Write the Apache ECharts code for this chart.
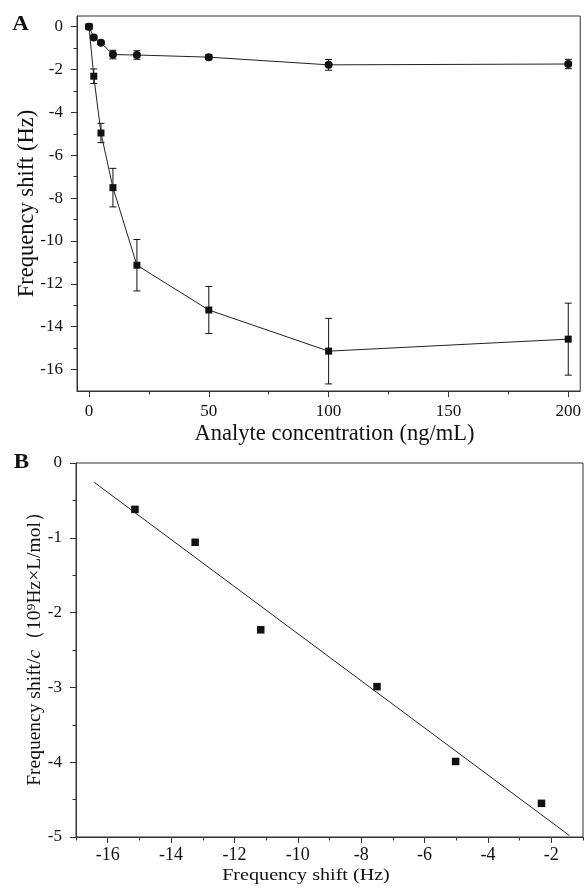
<!DOCTYPE html>
<html>
<head>
<meta charset="utf-8">
<script src="https://cdn.jsdelivr.net/npm/echarts@6/dist/echarts.min.js"></script>
<style>html,body{margin:0;padding:0;background:#fff;}#c{width:584px;height:888px;}</style>
</head>
<body>
<div id="c"></div>
<script>
// Panel A data
const concA = [0, 2, 5, 10, 20, 50, 100, 200];
const squareShift = [0, -2.31, -4.96, -7.51, -11.13, -13.22, -15.14, -14.58];
const squareErr = [0.1, 0.34, 0.45, 0.9, 1.2, 1.1, 1.53, 1.68];
const circleShift = [0, -0.5, -0.75, -1.3, -1.32, -1.42, -1.78, -1.74];
const circleErr = [0.08, 0.08, 0.08, 0.2, 0.2, 0.12, 0.25, 0.22];
const xTicksA = [0, 50, 100, 150, 200];
const xMinorA = [25, 75, 125, 175];
const yTicksA = [0, -2, -4, -6, -8, -10, -12, -14, -16];
const yMinorA = [-1, -3, -5, -7, -9, -11, -13, -15];
// Panel B data
const shiftB = [-15.14, -13.24, -11.17, -7.5, -5.02, -2.31];
const ratioB = [-0.62, -1.06, -2.23, -2.99, -3.99, -4.55];
const fitX = [-16.42, -1.43];
const fitY = [-0.26, -4.98];
const xTicksB = [-16, -14, -12, -10, -8, -6, -4, -2];
const xMinorB = [-17, -15, -13, -11, -9, -7, -5, -3, -1];
const yTicksB = [0, -1, -2, -3, -4, -5];
const yMinorB = [-0.5, -1.5, -2.5, -3.5, -4.5];

const FONT = "'Liberation Serif', 'Times New Roman', serif";
const INK = '#111';
const AXC = '#333';

function errItem(params, api) {
  const x = api.value(0), lo = api.value(1), hi = api.value(2);
  const a = api.coord([x, lo]), b = api.coord([x, hi]);
  const w = 3.5;
  const st = {stroke: INK, lineWidth: 1};
  return {type: 'group', children: [
    {type: 'line', shape: {x1: a[0], y1: a[1], x2: b[0], y2: b[1]}, style: st},
    {type: 'line', shape: {x1: a[0]-w, y1: a[1], x2: a[0]+w, y2: a[1]}, style: st},
    {type: 'line', shape: {x1: b[0]-w, y1: b[1], x2: b[0]+w, y2: b[1]}, style: st}
  ]};
}

function majorAxis(o) {
  return Object.assign({
    type: 'value', splitLine: {show: false},
    axisLine: {show: true, onZero: false, lineStyle: {color: AXC, width: 1}},
    axisTick: {show: true, inside: false, length: 6, customValues: o.ticks, lineStyle: {color: AXC}},
    axisLabel: {show: true, customValues: o.ticks, color: INK, fontFamily: FONT, fontSize: o.fs || 17, margin: o.margin}
  }, o.extra);
}
function minorAxis(o) {
  return Object.assign({
    type: 'value', splitLine: {show: false},
    axisLine: {show: false, onZero: false},
    axisTick: {show: true, inside: false, length: 3.5, customValues: o.ticks, lineStyle: {color: AXC}},
    axisLabel: {show: false}
  }, o.extra);
}

const chart = echarts.init(document.getElementById('c'), null, {renderer: 'canvas'});
chart.setOption({
  animation: false,
  backgroundColor: '#fff',
  grid: [
    {left: 77, top: 16, width: 504, height: 375, show: true, borderColor: AXC, borderWidth: 1},
    {left: 76, top: 463, width: 507, height: 374, show: true, borderColor: AXC, borderWidth: 1}
  ],
  xAxis: [
    majorAxis({ticks: xTicksA, margin: 12, fs: 17, extra: {gridIndex: 0, position: 'bottom', min: -5, max: 205}}),
    minorAxis({ticks: xMinorA, extra: {gridIndex: 0, position: 'bottom', min: -5, max: 205}}),
    majorAxis({ticks: xTicksB, margin: 9, fs: 18, extra: {gridIndex: 1, position: 'bottom', min: -17, max: -1}}),
    minorAxis({ticks: xMinorB, extra: {gridIndex: 1, position: 'bottom', min: -17, max: -1}})
  ],
  yAxis: [
    majorAxis({ticks: yTicksA, margin: 14, extra: {gridIndex: 0, position: 'left', min: -17, max: 0.5}}),
    minorAxis({ticks: yMinorA, extra: {gridIndex: 0, position: 'left', min: -17, max: 0.5}}),
    majorAxis({ticks: yTicksB, margin: 14, extra: {gridIndex: 1, position: 'left', min: -5, max: 0}}),
    minorAxis({ticks: yMinorB, extra: {gridIndex: 1, position: 'left', min: -5, max: 0}})
  ],
  graphic: [
    {type: 'text', x: 20.5, y: 25, scaleX: 1.15, style: {text: 'A', font: "bold 20px 'Liberation Serif', serif", fill: INK, align: 'center', verticalAlign: 'middle'}},
    {type: 'text', x: 21.5, y: 463, scaleX: 1.15, style: {text: 'B', font: "bold 20px 'Liberation Serif', serif", fill: INK, align: 'center', verticalAlign: 'middle'}},
    {type: 'text', x: 334.5, y: 434, style: {text: 'Analyte concentration (ng/mL)', font: "22.5px 'Liberation Serif', serif", fill: INK, align: 'center', verticalAlign: 'middle'}},
    {type: 'text', x: 27, y: 203.5, rotation: Math.PI / 2, style: {text: 'Frequency shift (Hz)', font: "22.5px 'Liberation Serif', serif", fill: INK, align: 'center', verticalAlign: 'middle'}},
    {type: 'text', x: 306, y: 875, scaleX: 1.15, style: {text: 'Frequency shift (Hz)', font: "17.5px 'Liberation Serif', serif", fill: INK, align: 'center', verticalAlign: 'middle'}},
    {type: 'text', x: 34.5, y: 644, rotation: Math.PI / 2, style: {
      text: '{n|Frequency shift/}{i|c}{n|（10⁹Hz×L/mol）}', align: 'center', verticalAlign: 'middle',
      rich: {
        n: {fontFamily: FONT, fontSize: 19.5, fill: INK},
        i: {fontFamily: FONT, fontSize: 19.5, fontStyle: 'italic', fill: INK}
      }}}
  ],
  series: [
    {type: 'custom', xAxisIndex: 0, yAxisIndex: 0, renderItem: errItem, encode: {x: 0, y: [1, 2]},
      data: concA.map((c, i) => [c, squareShift[i] - squareErr[i], squareShift[i] + squareErr[i]]), z: 3},
    {type: 'custom', xAxisIndex: 0, yAxisIndex: 0, renderItem: errItem, encode: {x: 0, y: [1, 2]},
      data: concA.map((c, i) => [c, circleShift[i] - circleErr[i], circleShift[i] + circleErr[i]]), z: 3},
    {type: 'line', xAxisIndex: 0, yAxisIndex: 0, data: concA.map((c, i) => [c, squareShift[i]]),
      symbol: 'rect', symbolSize: 7, itemStyle: {color: INK, opacity: 1}, lineStyle: {color: '#222', width: 1}, z: 4},
    {type: 'line', xAxisIndex: 0, yAxisIndex: 0, data: concA.map((c, i) => [c, circleShift[i]]),
      symbol: 'circle', symbolSize: 8, itemStyle: {color: INK, opacity: 1}, lineStyle: {color: '#222', width: 1}, z: 4},
    {type: 'line', xAxisIndex: 2, yAxisIndex: 2, data: fitX.map((x, i) => [x, fitY[i]]),
      symbol: 'none', lineStyle: {color: '#222', width: 1}, z: 3},
    {type: 'scatter', xAxisIndex: 2, yAxisIndex: 2, data: shiftB.map((x, i) => [x, ratioB[i]]),
      symbol: 'rect', symbolSize: 7.5, itemStyle: {color: INK, opacity: 1}, z: 4}
  ]
});
</script>
</body>
</html>
